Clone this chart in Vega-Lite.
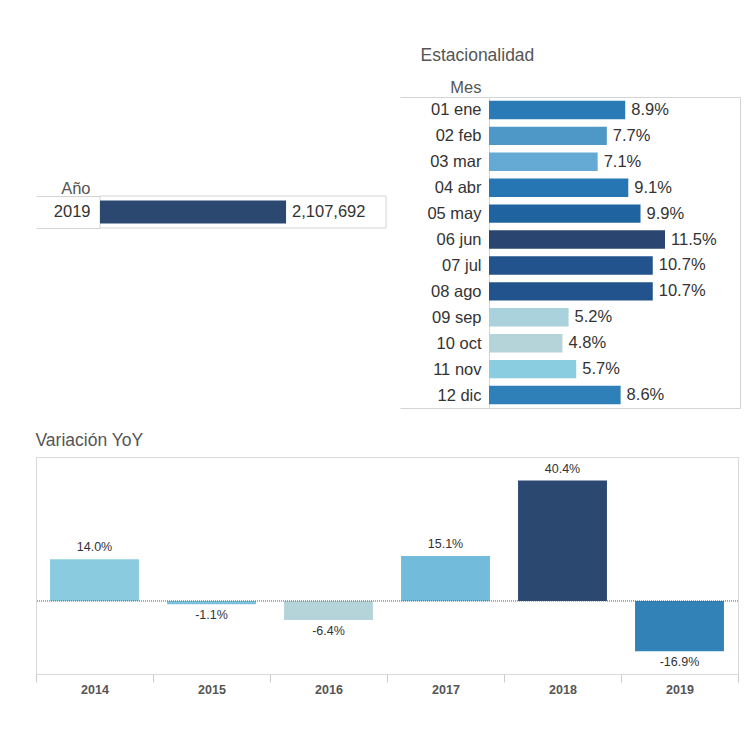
{
  "$schema": "https://vega.github.io/schema/vega-lite/v6.json",
  "background": "white",
  "padding": {"left": 35, "top": 46, "right": 0, "bottom": 0},
  "config": {
    "font": "Liberation Sans",
    "locale": {"number": {"decimal": ".", "thousands": ",", "grouping": [3], "currency": ["$", ""], "minus": "-"}},
    "axis": {"labelFont": "Liberation Sans", "titleFont": "Liberation Sans"},
    "title": {"font": "Liberation Sans"}
  },
  "datasets": {
    "anual": [{"anio": "2019", "ventas": 2107692}],
    "mensual": [
      {"mes": "01 ene", "participacion": 0.089},
      {"mes": "02 feb", "participacion": 0.077},
      {"mes": "03 mar", "participacion": 0.071},
      {"mes": "04 abr", "participacion": 0.091},
      {"mes": "05 may", "participacion": 0.099},
      {"mes": "06 jun", "participacion": 0.115},
      {"mes": "07 jul", "participacion": 0.107},
      {"mes": "08 ago", "participacion": 0.107},
      {"mes": "09 sep", "participacion": 0.052},
      {"mes": "10 oct", "participacion": 0.048},
      {"mes": "11 nov", "participacion": 0.057},
      {"mes": "12 dic", "participacion": 0.086}
    ],
    "yoy": [
      {"anio": "2014", "variacion": 0.140},
      {"anio": "2015", "variacion": -0.011},
      {"anio": "2016", "variacion": -0.064},
      {"anio": "2017", "variacion": 0.151},
      {"anio": "2018", "variacion": 0.404},
      {"anio": "2019", "variacion": -0.169}
    ]
  },
  "spacing": 22,
  "vconcat": [
    {
      "spacing": 12,
      "hconcat": [
        {
          "width": 350,
          "height": 311,
          "view": {"stroke": null},
          "data": {"name": "anual"},
          "encoding": {
            "y": {
              "field": "anio",
              "type": "nominal",
              "title": "Año",
              "scale": {"paddingInner": 0.7706, "paddingOuter": 1, "align": 0.3548},
              "axis": {
                "offset": -64,
                "tickBand": "extent",
                "tickSize": 64,
                "tickColor": "#d4d4d4",
                "domain": false,
                "labelPadding": -54,
                "labelFontSize": 16.5,
                "labelColor": "#333333",
                "titleAngle": 0,
                "titleAlign": "right",
                "titleBaseline": "alphabetic",
                "titleX": -10,
                "titleY": 96,
                "titleFontSize": 16.5,
                "titleFontWeight": "normal",
                "titleColor": "#555555"
              }
            }
          },
          "layer": [
            {
              "mark": {"type": "rect", "fill": "transparent", "stroke": "#d4d4d4", "strokeWidth": 1},
              "encoding": {
                "x": {"datum": 0, "type": "quantitative", "scale": {"domain": [-725035, 3240000], "nice": false, "zero": false}, "axis": null},
                "x2": {"datum": 3240000}
              }
            },
            {
              "mark": {"type": "bar", "color": "#2b4870", "height": {"band": 0.72}},
              "encoding": {
                "x": {"field": "ventas", "type": "quantitative", "scale": {"domain": [-725035, 3240000], "nice": false, "zero": false}, "axis": null}
              }
            },
            {
              "mark": {"type": "text", "align": "left", "baseline": "middle", "dx": 6, "fontSize": 16.5, "color": "#333333"},
              "encoding": {
                "x": {"field": "ventas", "type": "quantitative"},
                "text": {"field": "ventas", "type": "quantitative", "format": ",d"}
              }
            }
          ]
        },
        {
          "width": 251,
          "height": 311,
          "title": {"text": "Estacionalidad", "anchor": "start", "dx": 21, "fontSize": 17.5, "fontWeight": "normal", "color": "#555555", "offset": 15},
          "view": {"stroke": "#d4d4d4"},
          "data": {"name": "mensual"},
          "encoding": {
            "y": {
              "field": "mes",
              "type": "ordinal",
              "title": "Mes",
              "scale": {"paddingInner": 0, "paddingOuter": 0},
              "axis": {
                "tickBand": "extent",
                "tickSize": 89,
                "tickColor": {"condition": {"test": "datum.index === -1 || datum.index === 1", "value": "#d4d4d4"}, "value": "transparent"},
                "domain": false,
                "labelPadding": -81,
                "labelFontSize": 16.5,
                "labelColor": "#333333",
                "titleAngle": 0,
                "titleAlign": "right",
                "titleBaseline": "alphabetic",
                "titleX": -8,
                "titleY": -5,
                "titleFontSize": 16.5,
                "titleFontWeight": "normal",
                "titleColor": "#555555"
              }
            },
            "x": {"field": "participacion", "type": "quantitative", "scale": {"domain": [0, 0.164], "nice": false}, "axis": null}
          },
          "layer": [
            {
              "mark": {"type": "bar", "height": {"band": 0.71}},
              "encoding": {
                "color": {
                  "field": "participacion",
                  "type": "quantitative",
                  "scale": {
                    "domain": [0.048, 0.052, 0.057, 0.071, 0.077, 0.086, 0.089, 0.091, 0.099, 0.107, 0.115],
                    "range": ["#b5d4da", "#a9d2dd", "#8bcde0", "#65aad4", "#4e98c7", "#2f80b9", "#2a7ab6", "#2676b3", "#1f64a0", "#22538d", "#2a4670"]
                  },
                  "legend": null
                }
              }
            },
            {
              "mark": {"type": "text", "align": "left", "baseline": "middle", "dx": 6, "fontSize": 16.5, "color": "#333333"},
              "encoding": {
                "text": {"field": "participacion", "type": "quantitative", "format": ".1%"}
              }
            }
          ]
        }
      ]
    },
    {
      "width": 702,
      "height": 217,
      "title": {"text": "Variación YoY", "anchor": "start", "fontSize": 17.5, "fontWeight": "normal", "color": "#555555", "offset": 8},
      "view": {"stroke": "#d9d9d9"},
      "data": {"name": "yoy"},
      "layer": [
        {
          "mark": {"type": "bar", "width": {"band": 0.76}},
          "encoding": {
            "x": {
              "field": "anio",
              "type": "ordinal",
              "title": null,
              "scale": {"paddingInner": 0, "paddingOuter": 0},
              "axis": {
                "tickBand": "extent",
                "tickSize": 8,
                "tickColor": "#cccccc",
                "domain": false,
                "labelAngle": 0,
                "labelFontSize": 12.5,
                "labelFontWeight": "bold",
                "labelColor": "#555555",
                "labelPadding": 1
              }
            },
            "y": {"field": "variacion", "type": "quantitative", "scale": {"domain": [-0.245, 0.483], "nice": false, "zero": false}, "axis": null},
            "color": {
              "field": "anio",
              "type": "nominal",
              "scale": {"range": ["#8acbe0", "#7cc2de", "#b5d4da", "#72bbdb", "#2b4870", "#3282b8"]},
              "legend": null
            }
          }
        },
        {
          "data": {"values": [{"base": 0}]},
          "mark": {"type": "rule", "strokeDash": [1, 1], "color": "#555555", "strokeWidth": 1},
          "encoding": {"y": {"field": "base", "type": "quantitative"}}
        },
        {
          "transform": [{"filter": "datum.variacion >= 0"}],
          "mark": {"type": "text", "baseline": "bottom", "dy": -5, "fontSize": 12.5, "color": "#333333"},
          "encoding": {
            "x": {"field": "anio", "type": "ordinal"},
            "y": {"field": "variacion", "type": "quantitative"},
            "text": {"field": "variacion", "type": "quantitative", "format": ".1%"}
          }
        },
        {
          "transform": [{"filter": "datum.variacion < 0"}],
          "mark": {"type": "text", "baseline": "top", "dy": 5, "fontSize": 12.5, "color": "#333333"},
          "encoding": {
            "x": {"field": "anio", "type": "ordinal"},
            "y": {"field": "variacion", "type": "quantitative"},
            "text": {"field": "variacion", "type": "quantitative", "format": ".1%"}
          }
        }
      ]
    }
  ]
}
